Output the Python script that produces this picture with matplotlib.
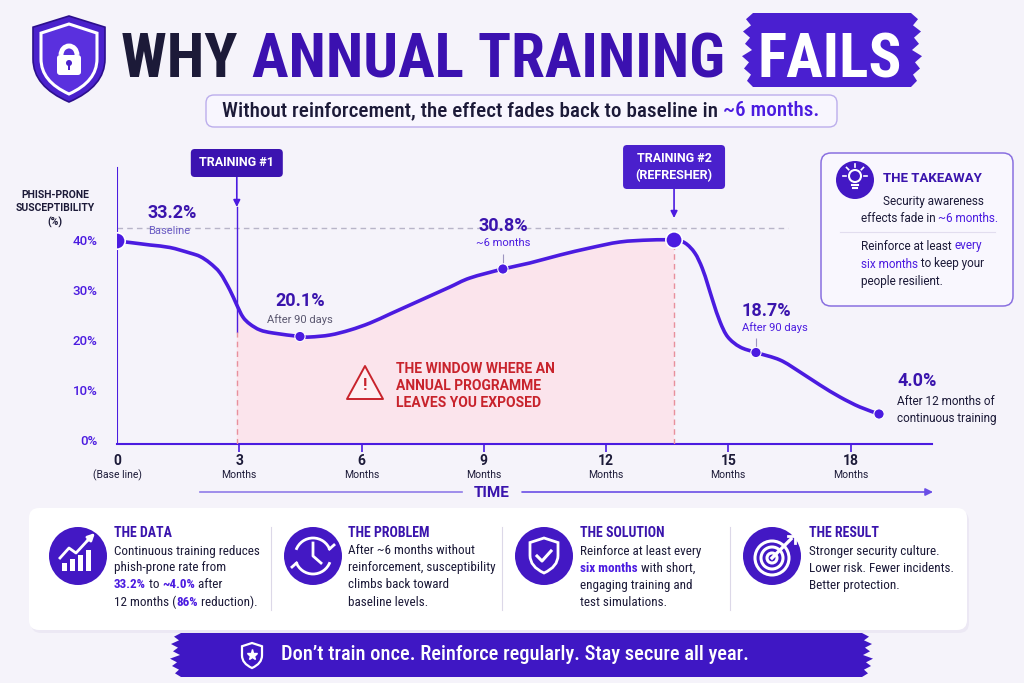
import numpy as np
import matplotlib.pyplot as plt
from matplotlib.patches import FancyBboxPatch, Circle, Polygon, Rectangle, Arc, PathPatch
from matplotlib.path import Path

#%% Data
months = [0.00, 0.32, 0.81, 1.30, 1.79, 2.04, 2.28, 2.53, 2.77, 2.94, 3.09, 3.26, 3.51, 3.83,
          4.49, 4.74, 5.23, 5.72, 6.21, 6.70, 7.19, 7.68, 8.17, 8.66, 9.47, 10.13, 10.87,
          11.60, 12.34, 13.08, 13.67, 13.94, 14.18, 14.36, 14.50, 14.63, 14.80, 14.99,
          15.29, 15.68, 16.27, 16.76, 17.25, 17.74, 18.23, 18.70]
pct = [39.8, 39.5, 39.0, 38.5, 37.4, 36.7, 35.4, 33.4, 30.0, 27.0, 24.6, 23.2, 22.0, 21.4,
       20.7, 20.6, 21.0, 22.0, 23.4, 25.2, 27.0, 28.8, 30.6, 32.4, 34.2, 35.4, 37.0,
       38.4, 39.6, 40.0, 40.0, 39.4, 37.4, 34.4, 31.0, 27.6, 23.6, 20.6,
       18.6, 17.5, 16.0, 13.6, 11.0, 8.6, 6.6, 5.2]

dot_months = [0.0, 4.49, 9.47, 13.67, 15.68, 18.70]
dot_pct = [39.8, 20.7, 34.2, 40.0, 17.5, 5.2]
dot_big = [True, False, False, True, False, False]

label_idx = [0, 1, 2, 4, 5]
label_vals = ['33.2%', '20.1%', '30.8%', '18.7%', '4.0%']
label_subs = ['Baseline', 'After 90 days', '~6 months', 'After 90 days',
              'After 12 months of\ncontinuous training']

training1 = 2.94
training2 = 13.67
baseline_level = 42.4
baseline_end = 16.47

yticks = [0, 10, 20, 30, 40]
ytick_labels = ['0%', '10%', '20%', '30%', '40%']
xticks = [0, 3, 6, 9, 12, 15, 18]
xtick_subs = ['(Base line)', 'Months', 'Months', 'Months', 'Months', 'Months', 'Months']

cards = [
    ('THE DATA', [[('Continuous training reduces', 0)], [('phish-prone rate from', 0)],
                  [('33.2%', 1), (' to ', 0), ('~4.0%', 1), (' after', 0)],
                  [('12 months (', 0), ('86%', 1), (' reduction).', 0)]]),
    ('THE PROBLEM', [[('After ~6 months without', 0)], [('reinforcement, susceptibility', 0)],
                     [('climbs back toward', 0)], [('baseline levels.', 0)]]),
    ('THE SOLUTION', [[('Reinforce at least every', 0)], [('six months', 1), (' with short,', 0)],
                      [('engaging training and', 0)], [('test simulations.', 0)]]),
    ('THE RESULT', [[('Stronger security culture.', 0)], [('Lower risk. Fewer incidents.', 0)],
                    [('Better protection.', 0)]]),
]

#%% Style
BG = '#f5f3fa'
PURPLE = '#4b1be0'
DPURPLE = '#3a14ad'
NAVY = '#1c1a38'
RED = '#c8232c'
PINK = '#fbe4ec'
ICON = '#4318c4'
FONT = ['Roboto', 'DejaVu Sans']
COND = ['Roboto Condensed', 'Liberation Sans Narrow', 'DejaVu Sans Condensed', 'Roboto', 'DejaVu Sans']

W, H = 1024, 683
fig = plt.figure(figsize=(W / 100, H / 100), dpi=100)
fig.patch.set_facecolor(BG)

# chart axes: x 117..932 px, y 150..444 px
ax = fig.add_axes([117 / W, 1 - 444 / H, 815 / W, 294 / H])
ax.set_facecolor('none')
ax.set_zorder(1)
ax.set_xlim(0, 20)
ax.set_ylim(-0.8, 58)

ov = fig.add_axes([0, 0, 1, 1])
ov.set_xlim(0, W)
ov.set_ylim(H, 0)
ov.axis('off')
ov.set_facecolor('none')
ov.set_zorder(2)

R = fig.canvas.get_renderer()


def tw(s, **kw):
    t = ov.text(0, 0, s + '|', **kw)
    a = t.get_window_extent(renderer=R).width
    t.set_text('|')
    b = t.get_window_extent(renderer=R).width
    t.remove()
    return a - b


def rich(x, y, parts, size, ha='left', family=FONT, va='center'):
    ws = [tw(s, fontsize=size, fontweight=wt, family=family) for s, c, wt in parts]
    if ha == 'center':
        x -= sum(ws) / 2
    for (s, c, wt), w in zip(parts, ws):
        ov.text(x, y, s, color=c, fontsize=size, fontweight=wt, family=family, va=va, ha='left')
        x += w


def fit_size(s, width, size=12, **kw):
    return size * width / tw(s, fontsize=size, **kw)


def shield_path(cx, top, w, h):
    v = [(cx, top), (cx + w / 2, top + 0.13 * h), (cx + w / 2, top + 0.5 * h),
         (cx + w / 2, top + 0.82 * h), (cx, top + h), (cx - w / 2, top + 0.82 * h),
         (cx - w / 2, top + 0.5 * h), (cx - w / 2, top + 0.13 * h), (cx, top)]
    c = [Path.MOVETO, Path.LINETO, Path.LINETO, Path.CURVE3, Path.CURVE3, Path.CURVE3,
         Path.CURVE3, Path.LINETO, Path.CLOSEPOLY]
    return Path(v, c)


def smooth_verts(xs, ys):
    # Catmull-Rom through the read points, drawn as cubic bezier segments
    p = np.column_stack([xs, ys])
    n = len(p)
    verts = [p[0]]
    for i in range(n - 1):
        p0 = p[i - 1] if i > 0 else p[i]
        p3 = p[i + 2] if i + 2 < n else p[i + 1]
        verts += [p[i] + (p[i + 1] - p0) / 6, p[i + 1] - (p3 - p[i]) / 6, p[i + 1]]
    return verts


def brush(x0, x1, y0, y1, color):
    jag = [0, 7, 2, 10, 3, 8, 1, 11, 4, 9, 2, 6, 0]
    n = len(jag)
    ys = np.linspace(y0, y1, n)
    pts = [(x0 + 14 - j, y) for j, y in zip(jag, ys)]
    pts += [(x1 - 14 + j, y) for j, y in zip(jag[::-1], ys[::-1])]
    ov.add_patch(Polygon(pts, closed=True, facecolor=color, edgecolor='none'))


#%% Chart
i1, i2 = months.index(training1), months.index(training2)
fv = smooth_verts(months[i1:i2 + 1], pct[i1:i2 + 1])
fv += [(training2, -0.8), (training1, -0.8), (training1, pct[i1])]
fc = [Path.MOVETO] + [Path.CURVE4] * (3 * (i2 - i1)) + [Path.LINETO, Path.LINETO, Path.CLOSEPOLY]
ax.add_patch(PathPatch(Path(fv, fc), fc=PINK, ec='none', zorder=1))

cv = smooth_verts(months, pct)
ax.add_patch(PathPatch(Path(cv, [Path.MOVETO] + [Path.CURVE4] * (len(cv) - 1)), fc='none', ec=PURPLE,
                       lw=2.6, capstyle='round', joinstyle='round', zorder=4))
ax.scatter(dot_months, dot_pct, s=[140 if b else 55 for b in dot_big], color=PURPLE, zorder=5,
           edgecolors='white', linewidths=[1.2 if b else 0.8 for b in dot_big])

ax.plot([0, baseline_end], [baseline_level, baseline_level], color='#b8b5c8', lw=1, ls=(0, (4, 3)), zorder=2)
ax.plot([0, 0], [-0.8, 54.4], color=PURPLE, lw=1.5, zorder=3)

# training markers
ax.plot([training1, training1], [21.6, 46.6], color=PURPLE, lw=1, zorder=3)
ax.plot([training1, training1], [-0.8, 21.6], color='#e8909c', lw=1, ls=(0, (4, 3)), zorder=3)
ax.plot([training2, training2], [-0.8, 40.0], color='#e8909c', lw=1, ls=(0, (4, 3)), zorder=3)
ax.annotate('', xy=(training1, 46.6), xytext=(training1, 52.6),
            arrowprops=dict(arrowstyle='-|>', color=PURPLE, lw=1.2, mutation_scale=10, shrinkA=0, shrinkB=0))
ax.annotate('', xy=(training2, 44.4), xytext=(training2, 50.2),
            arrowprops=dict(arrowstyle='-|>', color=PURPLE, lw=1.2, mutation_scale=10, shrinkA=0, shrinkB=0))

# point labels
offs = [(31, 28, 31, 10, 'left'), (0, 35, 0, 17, 'center'), (0, 43, 0, 26, 'center'),
        (-14, 41, -14, 25, 'left'), (18, 33, 18, 4, 'left')]
sub_cols = ['#6a5bc4', '#5b5870', PURPLE, PURPLE, NAVY]
for k, i in enumerate(label_idx):
    dx, dy, sx, sy, ha = offs[k]
    ax.annotate(label_vals[k], (dot_months[i], dot_pct[i]), xytext=(dx, dy), textcoords='offset pixels',
                ha=ha, va='center', fontsize=13, fontweight='bold', color=DPURPLE, family=FONT)
    ax.annotate(label_subs[k], (dot_months[i], dot_pct[i]), xytext=(sx, sy), textcoords='offset pixels',
                ha=ha, va='center', fontsize=8 if k < 4 else 8.5, color=sub_cols[k], family=FONT,
                linespacing=1.35)
ax.vlines([dot_months[2], dot_months[4]], [dot_pct[2] + 1.1, dot_pct[4] + 1.1],
          [dot_pct[2] + 2.9, dot_pct[4] + 2.9], color='#9c94c0', lw=0.8)

# axes styling
for s in ['left', 'right', 'top']:
    ax.spines[s].set_visible(False)
ax.spines['bottom'].set_color(PURPLE)
ax.spines['bottom'].set_linewidth(1.5)
ax.set_xticks(xticks[1:])
ax.tick_params(axis='x', length=6, width=1.2, color=PURPLE, labelbottom=False)
ax.set_yticks(yticks, ytick_labels)
ax.tick_params(axis='y', length=0, pad=14, labelcolor=PURPLE, labelsize=9.5)
for t in ax.get_yticklabels():
    t.set_family(FONT)
    t.set_fontweight('medium')
for m, sub in zip(xticks, xtick_subs):
    ax.annotate(str(m), (m, 0), xycoords=('data', 'axes fraction'), xytext=(0, -17),
                textcoords='offset pixels', ha='center', va='center', fontsize=10,
                fontweight='bold', color=NAVY, family=FONT)
    ax.annotate(sub, (m, 0), xycoords=('data', 'axes fraction'), xytext=(0, -31),
                textcoords='offset pixels', ha='center', va='center', fontsize=7.5,
                color=NAVY, family=FONT)

ov.text(55, 209, 'PHISH-PRONE\nSUSCEPTIBILITY\n(%)', ha='center', va='center', fontsize=7.5,
        fontweight='bold', color=NAVY, family=FONT, linespacing=1.45)

# TIME arrow
ov.plot([200, 462], [492, 492], color='#8f7be8', lw=1.2)
ov.annotate('', xy=(933, 492), xytext=(522, 492),
            arrowprops=dict(arrowstyle='-|>', color='#6a4ee6', lw=1.2, mutation_scale=11, shrinkA=0, shrinkB=0))
ov.text(492, 493, 'TIME', ha='center', va='center', fontsize=11, fontweight='bold', color=DPURPLE, family=FONT)

# training boxes
x1 = ax.transData.transform((training1, 0))[0]
x2 = ax.transData.transform((training2, 0))[0]
ov.add_patch(FancyBboxPatch((x1 - 46, 149), 92, 28, boxstyle='round,pad=0,rounding_size=4',
                            fc='#3b13b0', ec='none'))
ov.text(x1, 163, 'TRAINING #1', ha='center', va='center', color='white', fontsize=9,
        fontweight='bold', family=FONT)
ov.add_patch(FancyBboxPatch((x2 - 51, 145), 102, 44, boxstyle='round,pad=0,rounding_size=4',
                            fc='#4a20cc', ec='none'))
ov.text(x2, 167, 'TRAINING #2\n(REFRESHER)', ha='center', va='center', color='white', fontsize=9,
        fontweight='bold', family=FONT, linespacing=1.35)

# warning
ov.add_patch(Polygon([(365, 366), (383, 399), (347, 399)], closed=True, fc='#fdf0f3', ec=RED,
                     lw=1.4, joinstyle='round'))
ov.text(365, 386, '!', ha='center', va='center', color=RED, fontsize=12, fontweight='bold', family=FONT)
ov.text(396, 386, 'THE WINDOW WHERE AN\nANNUAL PROGRAMME\nLEAVES YOU EXPOSED', ha='left', va='center',
        color=RED, fontsize=10, fontweight='bold', family=FONT, linespacing=1.25)

#%% Takeaway box
ov.add_patch(FancyBboxPatch((821, 153), 192, 153, boxstyle='round,pad=0,rounding_size=10',
                            fc='#f9f7fe', ec='#8a70e0', lw=1.1))
ov.add_patch(Circle((855, 180), 19, fc=ICON, ec='none'))
ov.add_patch(Circle((855, 176), 6, fc='none', ec='white', lw=1.5))
ov.plot([852, 858], [185, 185], color='white', lw=1.5)
ov.plot([853, 857], [188, 188], color='white', lw=1.5)
for ang in [-90, -45, -135, 0, 180]:
    a = np.deg2rad(ang)
    ov.plot([855 + 9 * np.cos(a), 855 + 12 * np.cos(a)], [176 + 9 * np.sin(a), 176 + 12 * np.sin(a)],
            color='white', lw=1.2)
ov.text(883, 178, 'THE TAKEAWAY', ha='left', va='center', color=DPURPLE, fontsize=9.5,
        fontweight='bold', family=FONT)
rich(883, 201, [('Security awareness', NAVY, 'normal')], 8.5)
rich(861, 218, [('effects fade in ', NAVY, 'normal'), ('~6 months.', PURPLE, 'normal')], 8.5)
ov.plot([840, 995], [232, 232], color='#e2ddef', lw=0.8)
rich(861, 246, [('Reinforce at least ', NAVY, 'normal'), ('every', PURPLE, 'normal')], 8.5)
rich(861, 264, [('six months', PURPLE, 'normal'), (' to keep your', NAVY, 'normal')], 8.5)
rich(861, 282, [('people resilient.', NAVY, 'normal')], 8.5)

#%% Title
size = min(fit_size('WHY ANNUAL TRAINING', 604, 40, fontweight='black', family=COND), 60)
ov.add_patch(PathPatch(shield_path(69, 16, 72, 86), fc='#4a21cc', ec='#2c0f8c', lw=1.2))
ov.add_patch(PathPatch(shield_path(69, 24, 56, 70), fc='#5a30de', ec='white', lw=2.2))
ov.add_patch(FancyBboxPatch((57, 55), 24, 20, boxstyle='round,pad=0,rounding_size=3', fc='white', ec='none'))
ov.add_patch(Arc((69, 55), 16, 18, theta1=180, theta2=360, color='white', lw=3.5))
ov.add_patch(Circle((69, 63), 3, fc='#4a21cc', ec='none'))
ov.add_patch(Rectangle((68, 63), 2, 7, fc='#4a21cc', ec='none'))
rich(121, 77, [('WHY ', NAVY, 'black'), ('ANNUAL TRAINING', '#3b11b0', 'black')], size,
     family=COND, va='baseline')
brush(739, 925, 13, 87, '#4a1fd0')
ov.text(830, 77, 'FAILS', ha='center', va='baseline', color='white', fontsize=size,
        fontweight='black', family=COND)

# subtitle
ov.add_patch(FancyBboxPatch((206, 95), 631, 32, boxstyle='round,pad=0,rounding_size=8',
                            fc='#f8f6fe', ec='#bcaeec', lw=1))
sub_a = 'Without reinforcement, the effect fades back to baseline in '
sub_b = '~6 months.'
ssize = fit_size(sub_a + sub_b, 595, 12, fontweight='medium', family=COND)
rich(521, 111, [(sub_a, NAVY, 'medium'), (sub_b, PURPLE, 'medium')], ssize, ha='center', family=COND)

#%% Bottom cards
ov.add_patch(FancyBboxPatch((31, 511), 938, 122, boxstyle='round,pad=0,rounding_size=10',
                            fc='#e6e2f0', ec='none', alpha=0.6))
ov.add_patch(FancyBboxPatch((29, 508), 938, 122, boxstyle='round,pad=0,rounding_size=10',
                            fc='white', ec='none'))
icon_x = [78, 313, 544, 772]
text_x = [114, 348, 580, 809]
bsize = fit_size('Continuous training reduces', 145, 9, family=COND)
for xd in [271, 502, 730]:
    ov.plot([xd, xd], [527, 610], color='#dcd8e8', lw=0.8)
for (head, lines), ix, tx in zip(cards, icon_x, text_x):
    ov.add_patch(Circle((ix, 556), 29, fc=ICON, ec='none'))
    ov.text(tx, 533, head, ha='left', va='center', color=DPURPLE, fontsize=10, fontweight='bold', family=COND)
    for j, parts in enumerate(lines):
        rich(tx, 551 + 17 * j, [(s, PURPLE if hi else NAVY, 'bold' if hi else 'normal') for s, hi in parts],
             bsize, family=COND)

# icon 1: bars + arrow
for bx, bh in zip([62, 70, 78, 86], [8, 12, 16, 21]):
    ov.add_patch(Rectangle((bx, 571 - bh), 5, bh, fc='white', ec='none'))
ov.plot([60, 69, 76, 88], [558, 548, 553, 540], color='white', lw=2, solid_joinstyle='round')
ov.annotate('', xy=(95, 533), xytext=(87, 541),
            arrowprops=dict(arrowstyle='-|>', color='white', lw=2, mutation_scale=10, shrinkA=0, shrinkB=0))
# icon 2: clock
ov.add_patch(Arc((313, 556), 36, 36, theta1=20, theta2=160, color='white', lw=2))
ov.add_patch(Arc((313, 556), 36, 36, theta1=200, theta2=340, color='white', lw=2))
ov.plot([313, 313, 321], [543, 556, 563], color='white', lw=2, solid_joinstyle='round')
ov.plot([329.5, 334], [549, 545], color='white', lw=2)
ov.plot([296.5, 292], [563, 567], color='white', lw=2)
# icon 3: shield check
ov.add_patch(PathPatch(shield_path(544, 538, 28, 35), fc='none', ec='white', lw=2))
ov.plot([537, 542, 551], [556, 561, 551], color='white', lw=2.2, solid_joinstyle='round')
# icon 4: target
for r in [17, 11, 5]:
    ov.add_patch(Circle((772, 558), r, fc='none', ec='white', lw=2.2))
ov.plot([772, 791], [558, 539], color='white', lw=2.4)
ov.plot([788, 795, 795], [536, 536, 543], color='white', lw=2)

#%% Bottom banner
brush(167, 876, 633, 677, '#3f17c4')
ov.add_patch(PathPatch(shield_path(252, 643, 20, 25), fc='none', ec='white', lw=1.6))
ov.plot([252], [655], marker='*', color='white', markersize=8)
banner = 'Don\u2019t train once. Reinforce regularly. Stay secure all year.'
nsize = fit_size(banner, 469, 13, fontweight='medium', family=COND)
ov.text(281, 655, banner, ha='left', va='center', color='white', fontsize=nsize,
        fontweight='medium', family=COND)

plt.savefig('out.png', dpi=100, facecolor=BG)
